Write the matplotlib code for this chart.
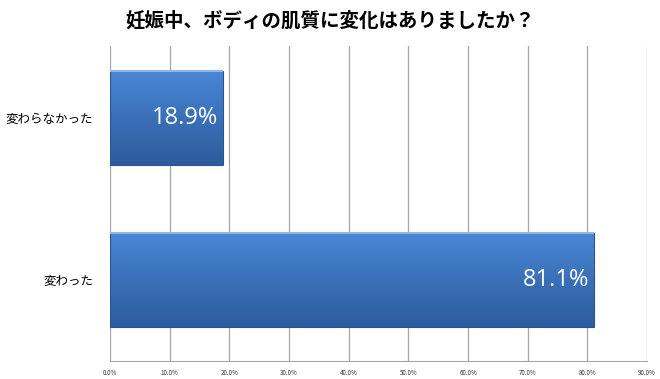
import numpy as np
import matplotlib.pyplot as plt
from matplotlib.colors import LinearSegmentedColormap
from matplotlib.ticker import FuncFormatter

plt.rcParams['font.family'] = ['Noto Sans CJK JP', 'DejaVu Sans']

# === Data ===
categories = ["変わった", "変わらなかった"]
values = [81.1, 18.9]
value_labels = ["81.1%", "18.9%"]
title = "妊娠中、ボディの肌質に変化はありましたか？"
x_ticks = [0, 10, 20, 30, 40, 50, 60, 70, 80, 90]

BAR_H = 0.575
grad = LinearSegmentedColormap.from_list("bar", ["#2d5c9c", "#3a70b8", "#4a87d6"])

fig = plt.figure(figsize=(6.6, 3.79), dpi=100)
ax = fig.add_axes([0.1667, 0.0475, 0.8136, 0.8311])

ypos = np.arange(len(categories))
bars = ax.barh(ypos, values, height=BAR_H, color="none",
               edgecolor="#2a5590", linewidth=0.8, zorder=3)

# vertical gradient inside each bar
g = np.linspace(0, 1, 256).reshape(-1, 1)
for b in bars:
    x0, y0 = b.get_x(), b.get_y()
    im = ax.imshow(g, cmap=grad, aspect="auto", origin="lower",
                   extent=[x0, x0 + b.get_width(), y0, y0 + b.get_height()],
                   zorder=2)
    im.set_clip_path(b)
    # light top highlight
    ax.plot([x0, x0 + b.get_width()], [y0 + b.get_height()] * 2,
            color="#8fb8ea", lw=1.5, zorder=4, solid_capstyle="butt")

for b, lab in zip(bars, value_labels):
    ax.text(b.get_width() - 0.8, b.get_y() + b.get_height() / 2, lab,
            ha="right", va="center", color="white", fontsize=17,
            family=["Open Sans", "DejaVu Sans"], zorder=5)

ax.set_xlim(0, 90)
ax.set_ylim(-0.5, 1.444)
ax.set_xticks(x_ticks)
ax.xaxis.set_major_formatter(FuncFormatter(lambda v, p: f"{v:.1f}%"))
ax.set_yticks(ypos)
ax.set_yticklabels(categories, fontsize=9)
ax.tick_params(axis="x", length=0, pad=6, labelsize=4.5, colors="#333333")
ax.tick_params(axis="y", length=0, pad=12)
ax.grid(axis="x", color="#a6a6a6", lw=0.9, zorder=0)
ax.set_axisbelow(True)
for s in ["top", "right", "left"]:
    ax.spines[s].set_visible(False)
ax.spines["bottom"].set_color("#a6a6a6")

fig.text(0.5, 0.945, title, ha="center", va="center", fontsize=14,
         fontweight="bold")

fig.savefig("out.png", dpi=100)
